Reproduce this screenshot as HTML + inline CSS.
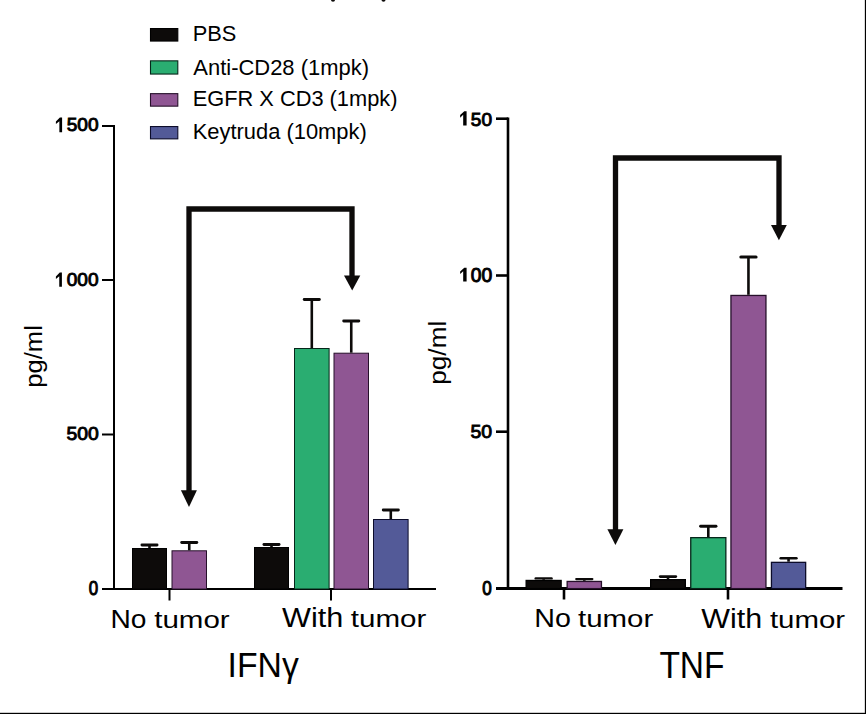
<!DOCTYPE html>
<html><head><meta charset="utf-8"><style>
html,body{margin:0;padding:0;background:#fff;width:866px;height:714px;overflow:hidden}
svg{position:absolute;left:0;top:0;display:block}
text{font-family:"Liberation Sans",sans-serif;fill:#000}
</style></head><body>
<svg width="866" height="714" viewBox="0 0 866 714">
<text transform="translate(192.72,41.30) scale(1.0919,1.0714)" font-size="20" font-weight="normal">PBS</text>
<text transform="translate(193.30,74.50) scale(1.0987,1.1000)" font-size="20" font-weight="normal">Anti-CD28 (1mpk)</text>
<text transform="translate(192.72,106.20) scale(1.0908,1.0714)" font-size="20" font-weight="normal">EGFR X CD3 (1mpk)</text>
<text transform="translate(192.71,139.30) scale(1.0955,1.1071)" font-size="20" font-weight="normal">Keytruda (10mpk)</text>
<text transform="translate(66.70,131.28) scale(0.9545,0.9187)" font-size="20" stroke="#000" stroke-width="1.014">500</text>
<text transform="translate(66.70,285.85) scale(0.9545,0.9467)" font-size="20" stroke="#000" stroke-width="0.999">000</text>
<text transform="translate(66.40,440.01) scale(0.9667,0.8875)" font-size="20" stroke="#000" stroke-width="1.025">500</text>
<text transform="translate(88.70,595.20) scale(0.8455,1.0000)" font-size="20" stroke="#000" stroke-width="1.030">0</text>
<text transform="translate(470.80,125.60) scale(0.9545,0.9600)" font-size="20" stroke="#000" stroke-width="0.992">50</text>
<text transform="translate(470.80,281.60) scale(0.9636,0.9929)" font-size="20" stroke="#000" stroke-width="0.971">00</text>
<text transform="translate(470.50,438.40) scale(0.9727,0.9333)" font-size="20" stroke="#000" stroke-width="0.997">50</text>
<text transform="translate(482.30,594.50) scale(0.8545,0.9643)" font-size="20" stroke="#000" stroke-width="1.045">0</text>
<text transform="translate(110.52,627.70) scale(1.0419,0.9684)" font-size="27" font-weight="normal">No</text>
<text transform="translate(154.20,627.70) scale(1.0942,0.8889)" font-size="27" font-weight="normal">tumor</text>
<text transform="translate(282.00,627.40) scale(1.1346,1.0100)" font-size="27" font-weight="normal">With</text>
<text transform="translate(350.80,627.40) scale(1.0942,0.8833)" font-size="27" font-weight="normal">tumor</text>
<text transform="translate(534.28,627.40) scale(1.0613,0.9526)" font-size="27" font-weight="normal">No</text>
<text transform="translate(578.00,627.40) scale(1.0899,0.8833)" font-size="27" font-weight="normal">tumor</text>
<text transform="translate(701.30,627.60) scale(1.1288,1.0100)" font-size="27" font-weight="normal">With</text>
<text transform="translate(769.90,627.60) scale(1.0899,0.8833)" font-size="27" font-weight="normal">tumor</text>
<text transform="translate(227.56,676.78) scale(0.9120,0.9529)" font-size="37" font-weight="normal">IFNγ</text>
<text transform="translate(659.39,677.50) scale(0.9058,0.9731)" font-size="37" font-weight="normal">TNF</text>
<text transform="translate(42.30,387.65) rotate(-90) scale(1.0228,0.9792)" font-size="25" font-weight="normal">pg/ml</text>
<text transform="translate(445.64,384.80) rotate(-90) scale(1.0491,0.9917)" font-size="25" font-weight="normal">pg/ml</text>
<path d="M62.10,117.50 L59.87,117.50 L55.90,121.47 L55.90,124.11 L59.37,121.25 L59.37,132.20 L62.10,132.20 Z" fill="#000"/>
<path d="M61.90,272.60 L59.74,272.60 L55.90,276.43 L55.90,278.99 L59.26,276.22 L59.26,286.80 L61.90,286.80 Z" fill="#000"/>
<path d="M466.60,111.20 L464.28,111.20 L460.15,115.09 L460.15,117.68 L463.18,114.87 L463.18,125.60 L466.60,125.60 Z" fill="#000"/>
<path d="M466.60,267.70 L464.28,267.70 L460.15,271.45 L460.15,273.95 L463.18,271.24 L463.18,281.60 L466.60,281.60 Z" fill="#000"/>
<line x1="114" y1="125" x2="114" y2="590" stroke="#000" stroke-width="2.0"/>
<line x1="102" y1="589" x2="436" y2="589" stroke="#000" stroke-width="2.0"/>
<line x1="102" y1="126" x2="114" y2="126" stroke="#000" stroke-width="2.0"/>
<line x1="102" y1="280" x2="114" y2="280" stroke="#000" stroke-width="2.0"/>
<line x1="102" y1="434.5" x2="114" y2="434.5" stroke="#000" stroke-width="2.0"/>
<line x1="169.5" y1="589" x2="169.5" y2="600.5" stroke="#000" stroke-width="2.0"/>
<line x1="331" y1="589" x2="331" y2="600.5" stroke="#000" stroke-width="2.0"/>
<rect x="132.50" y="548.50" width="34.00" height="40.50" fill="#0d0b0a" stroke="#000" stroke-width="1.0"/>
<line x1="149.50" y1="548.00" x2="149.50" y2="545.00" stroke="#0d0b0a" stroke-width="2.6"/>
<line x1="141.90" y1="545.00" x2="157.10" y2="545.00" stroke="#0d0b0a" stroke-width="2.80" stroke-linecap="round"/>
<rect x="172.00" y="550.80" width="34.50" height="38.20" fill="#8f5693" stroke="#26102a" stroke-width="1.0"/>
<line x1="189.25" y1="550.30" x2="189.25" y2="542.50" stroke="#0d0b0a" stroke-width="2.6"/>
<line x1="181.65" y1="542.50" x2="196.85" y2="542.50" stroke="#0d0b0a" stroke-width="2.80" stroke-linecap="round"/>
<rect x="254.50" y="547.50" width="34.00" height="41.50" fill="#0d0b0a" stroke="#000" stroke-width="1.0"/>
<line x1="271.50" y1="547.00" x2="271.50" y2="544.50" stroke="#0d0b0a" stroke-width="2.6"/>
<line x1="263.90" y1="544.50" x2="279.10" y2="544.50" stroke="#0d0b0a" stroke-width="2.80" stroke-linecap="round"/>
<rect x="294.50" y="348.50" width="34.60" height="240.50" fill="#2aad71" stroke="#06261a" stroke-width="1.0"/>
<line x1="311.80" y1="348.00" x2="311.80" y2="299.50" stroke="#0d0b0a" stroke-width="2.6"/>
<line x1="304.20" y1="299.50" x2="319.40" y2="299.50" stroke="#0d0b0a" stroke-width="2.80" stroke-linecap="round"/>
<rect x="334.00" y="353.20" width="34.50" height="235.80" fill="#8f5693" stroke="#26102a" stroke-width="1.0"/>
<line x1="351.25" y1="352.70" x2="351.25" y2="321.00" stroke="#0d0b0a" stroke-width="2.6"/>
<line x1="343.65" y1="321.00" x2="358.85" y2="321.00" stroke="#0d0b0a" stroke-width="2.80" stroke-linecap="round"/>
<rect x="373.50" y="519.50" width="34.60" height="69.50" fill="#535a98" stroke="#0c0c2a" stroke-width="1.0"/>
<line x1="390.80" y1="519.00" x2="390.80" y2="510.00" stroke="#0d0b0a" stroke-width="2.6"/>
<line x1="383.20" y1="510.00" x2="398.40" y2="510.00" stroke="#0d0b0a" stroke-width="2.80" stroke-linecap="round"/>
<line x1="508" y1="117.5" x2="508" y2="590" stroke="#000" stroke-width="2.6"/>
<line x1="496" y1="588.6" x2="842.5" y2="588.6" stroke="#000" stroke-width="3"/>
<line x1="496" y1="118.7" x2="508" y2="118.7" stroke="#000" stroke-width="2.6"/>
<line x1="496" y1="275.5" x2="508" y2="275.5" stroke="#000" stroke-width="2.6"/>
<line x1="496" y1="431.7" x2="508" y2="431.7" stroke="#000" stroke-width="2.6"/>
<line x1="564" y1="589" x2="564" y2="599.5" stroke="#000" stroke-width="2.6"/>
<line x1="728" y1="589" x2="728" y2="599.5" stroke="#000" stroke-width="2.6"/>
<rect x="526.15" y="580.45" width="35.00" height="8.15" fill="#0d0b0a" stroke="#000" stroke-width="1.3"/>
<line x1="543.65" y1="579.80" x2="543.65" y2="578.40" stroke="#0d0b0a" stroke-width="2.6"/>
<line x1="535.70" y1="578.40" x2="551.60" y2="578.40" stroke="#0d0b0a" stroke-width="2.40" stroke-linecap="round"/>
<rect x="567.15" y="581.45" width="34.30" height="7.15" fill="#8f5693" stroke="#26102a" stroke-width="1.3"/>
<line x1="584.30" y1="580.80" x2="584.30" y2="579.10" stroke="#0d0b0a" stroke-width="2.6"/>
<line x1="576.20" y1="579.10" x2="592.40" y2="579.10" stroke="#0d0b0a" stroke-width="2.10" stroke-linecap="round"/>
<rect x="650.65" y="579.65" width="34.70" height="8.95" fill="#0d0b0a" stroke="#000" stroke-width="1.3"/>
<line x1="668.00" y1="579.00" x2="668.00" y2="576.60" stroke="#0d0b0a" stroke-width="2.6"/>
<line x1="660.15" y1="576.60" x2="675.85" y2="576.60" stroke="#0d0b0a" stroke-width="2.60" stroke-linecap="round"/>
<rect x="690.75" y="537.65" width="35.10" height="50.95" fill="#2aad71" stroke="#06261a" stroke-width="1.3"/>
<line x1="708.30" y1="537.00" x2="708.30" y2="526.20" stroke="#0d0b0a" stroke-width="2.6"/>
<line x1="700.60" y1="526.20" x2="716.00" y2="526.20" stroke="#0d0b0a" stroke-width="2.90" stroke-linecap="round"/>
<rect x="730.95" y="295.45" width="35.00" height="293.15" fill="#8f5693" stroke="#26102a" stroke-width="1.3"/>
<line x1="748.45" y1="294.80" x2="748.45" y2="257.00" stroke="#0d0b0a" stroke-width="2.6"/>
<line x1="740.85" y1="257.00" x2="756.05" y2="257.00" stroke="#0d0b0a" stroke-width="3.10" stroke-linecap="round"/>
<rect x="771.45" y="562.35" width="34.20" height="26.25" fill="#535a98" stroke="#0c0c2a" stroke-width="1.3"/>
<line x1="788.55" y1="561.70" x2="788.55" y2="558.30" stroke="#0d0b0a" stroke-width="2.6"/>
<line x1="780.70" y1="558.30" x2="796.40" y2="558.30" stroke="#0d0b0a" stroke-width="2.60" stroke-linecap="round"/>
<path d="M189,492 V209 H352 V276" fill="none" stroke="#0d0b0a" stroke-width="5.3" stroke-linejoin="miter"/>
<path d="M180.9,490.3 L196.9,490.3 L189,507 Z" fill="#0d0b0a"/>
<path d="M344,275.4 L360.3,275.4 L352.2,290.6 Z" fill="#0d0b0a"/>
<path d="M615.5,530 V158 H779 V226" fill="none" stroke="#0d0b0a" stroke-width="5.3" stroke-linejoin="miter"/>
<path d="M607.4,529.2 L623.4,529.2 L615.4,545.1 Z" fill="#0d0b0a"/>
<path d="M771,225 L786.8,225 L778.9,240.3 Z" fill="#0d0b0a"/>
<rect x="150.5" y="28.55" width="27.3" height="12.50" fill="#0d0b0a" stroke="#000" stroke-width="1.1"/>
<rect x="150.5" y="60.85" width="27.3" height="13.20" fill="#2aad71" stroke="#06261a" stroke-width="1.1"/>
<rect x="150.5" y="93.65" width="27.3" height="12.50" fill="#8f5693" stroke="#26102a" stroke-width="1.1"/>
<rect x="150.5" y="126.55" width="27.3" height="12.30" fill="#535a98" stroke="#0c0c2a" stroke-width="1.1"/>
<ellipse cx="333" cy="0" rx="2" ry="1.8" fill="#0d0b0a"/>
<ellipse cx="383.5" cy="0" rx="2" ry="1.8" fill="#0d0b0a"/>
<rect x="0" y="712.8" width="866" height="1.2" fill="#000"/>
<rect x="864.85" y="0" width="1.15" height="714" fill="#000"/>
</svg>
</body></html>
